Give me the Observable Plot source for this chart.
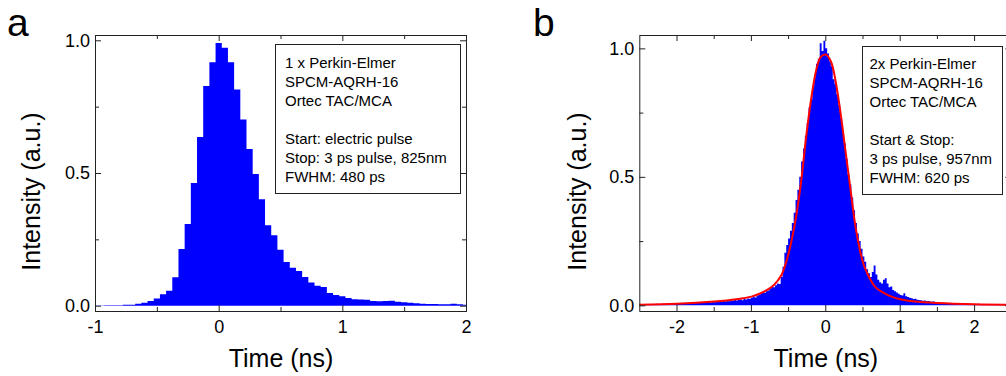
<!DOCTYPE html>
<html><head><meta charset="utf-8">
<script src="https://cdn.jsdelivr.net/npm/d3@7"></script>
<script src="https://cdn.jsdelivr.net/npm/@observablehq/plot@0.6"></script>
<style>
body{margin:0;background:#fff;}
#wrap{position:relative;width:1006px;height:376px;overflow:hidden;font-family:"Liberation Sans",Arial,sans-serif;color:#000;}
.panel{position:absolute;top:0;height:376px;overflow:visible;}
.panel svg{max-width:none !important;}
.letter{position:absolute;font-size:39px;line-height:44px;}
.legend{position:absolute;border:1px solid #222;box-sizing:border-box;font-size:15px;line-height:19px;white-space:pre;background:#fff;}
</style></head>
<body>
<div id="wrap">
  <div id="pa" class="panel" style="left:0px;width:486px"></div>
  <div id="pb" class="panel" style="left:520px;width:521px"></div>
  <div class="letter" style="left:7px;top:0.5px">a</div>
  <div class="letter" style="left:533px;top:0.5px">b</div>
  <div id="lega" class="legend" style="left:275px;top:44px;width:186px;height:150px;padding:7.7px 0 0 9px"></div>
  <div id="legb" class="legend" style="left:862px;top:45.5px;width:141px;height:149px;padding:7.6px 0 0 6.5px"></div>
</div>
<script>
// ---------- Panel a data ----------
const aCenters = [-1.00,-0.95,-0.90,-0.85,-0.80,-0.75,-0.70,-0.65,-0.60,-0.55,-0.50,-0.45,-0.40,-0.35,-0.30,-0.25,-0.20,-0.15,-0.10,-0.05,
  0.00,0.05,0.10,0.15,0.20,0.25,0.30,0.35,0.40,0.45,0.50,0.55,0.60,0.65,0.70,0.75,0.80,0.85,0.90,0.95,
  1.00,1.05,1.10,1.15,1.20,1.25,1.30,1.35,1.40,1.45,1.50,1.55,1.60,1.65,1.70,1.75,1.80,1.85,1.90,1.95,2.00];
const aHeights = [0.001,0.001,0.002,0.002,0.002,0.004,0.004,0.007,0.011,0.018,0.027,0.043,0.056,0.107,0.214,0.308,0.462,0.636,0.828,0.917,
  0.990,0.972,0.917,0.815,0.702,0.590,0.496,0.401,0.303,0.265,0.211,0.165,0.143,0.131,0.108,0.087,0.075,0.070,0.048,0.040,
  0.036,0.029,0.024,0.023,0.022,0.018,0.017,0.018,0.019,0.015,0.013,0.011,0.009,0.007,0.006,0.006,0.005,0.005,0.007,0.005,0.004];
const aXMajor = [-1, 0, 1, 2];
const aXMinor = [-0.5, 0.5, 1.5];
const aLegend = ["1 x Perkin-Elmer","SPCM-AQRH-16","Ortec TAC/MCA","","Start: electric pulse","Stop: 3 ps pulse, 825nm","FWHM: 480 ps"];

// ---------- Panel b data ----------
const bStart = -2.5, bWidth = 0.025;
const bHeights = [
  // -2.5 .. -2.0
  0.003,0.004,0.002,0.004,0.005,0.003,0.004,0.005,0.004,0.006,0.005,0.004,0.006,0.005,0.007,0.005,0.006,0.007,0.006,0.008,
  // -2.0 .. -1.5
  0.007,0.008,0.006,0.009,0.008,0.010,0.007,0.009,0.011,0.008,0.010,0.012,0.009,0.011,0.013,0.010,0.012,0.014,0.011,0.013,
  // -1.5 .. -1.0
  0.012,0.015,0.013,0.016,0.014,0.017,0.015,0.019,0.016,0.020,0.018,0.022,0.019,0.021,0.024,0.020,0.025,0.023,0.027,0.026,
  // -1.0 .. -0.5
  0.030,0.034,0.031,0.037,0.040,0.046,0.051,0.049,0.055,0.058,0.066,0.072,0.070,0.078,0.085,0.083,0.110,0.150,0.205,0.235,
  // -0.5 .. 0
  0.26,0.29,0.32,0.36,0.41,0.45,0.50,0.56,0.61,0.66,0.71,0.77,0.80,0.85,0.89,0.94,0.96,1.02,0.99,1.03,
  // 0 .. 0.5
  1.00,0.98,0.95,0.93,0.88,0.86,0.82,0.78,0.73,0.68,0.63,0.57,0.51,0.47,0.42,0.37,0.32,0.28,0.25,0.22,
  // 0.5 .. 1.0
  0.19,0.17,0.14,0.125,0.11,0.13,0.155,0.12,0.10,0.09,0.085,0.10,0.105,0.085,0.07,0.073,0.06,0.055,0.05,0.045,
  // 1.0 .. 1.5
  0.040,0.038,0.047,0.035,0.032,0.030,0.028,0.025,0.026,0.022,0.021,0.020,0.018,0.019,0.016,0.017,0.015,0.014,0.015,0.013,
  // 1.5 .. 2.0
  0.010,0.011,0.009,0.010,0.008,0.009,0.008,0.007,0.009,0.007,0.006,0.008,0.006,0.007,0.005,0.006,0.007,0.005,0.006,0.005,
  // 2.0 .. 2.5
  0.005,0.004,0.006,0.004,0.005,0.004,0.003,0.005,0.004,0.003,0.004,0.003,0.004,0.003,0.002,0.004,0.003,0.002,0.003,0.002];
const bFitT = [-2.5,-2.0,-1.5,-1.2,-1.0,-0.9,-0.8,-0.7,-0.6,-0.54,-0.47,-0.40,-0.33,-0.27,-0.20,-0.13,-0.07,0.0,0.07,0.13,0.20,0.27,0.34,0.40,0.47,0.51,0.56,0.62,0.67,0.76,0.85,1.0,1.2,1.5,2.0,2.5];
const bFitV = [0.004,0.008,0.017,0.026,0.036,0.046,0.060,0.080,0.118,0.163,0.241,0.345,0.488,0.643,0.799,0.916,0.968,0.978,0.950,0.877,0.747,0.591,0.436,0.306,0.202,0.160,0.125,0.092,0.072,0.053,0.040,0.026,0.017,0.011,0.006,0.004];
const bXMajor = [-2, -1, 0, 1, 2];
const bXMinor = [-1.5, -0.5, 0.5, 1.5];
const bLegend = ["2x Perkin-Elmer","SPCM-AQRH-16","Ortec TAC/MCA","","Start & Stop:","3 ps pulse, 957nm","FWHM: 620 ps"];

const yMajor = [0, 0.5, 1.0];
const yMinor = [0.25, 0.75];

const BLUE = "#0000ff", INK = "#222";
const FH = 276; // frame height in px

function makeMarks({hist, fit, xMajor, xMinor, titleDx}) {
  const m = [Plot.areaY(hist, {x: "t", y: "v", y1: 0, curve: "step", fill: BLUE, clip: true})];
  if (fit) m.push(Plot.line(fit, {x: "t", y: "v", stroke: "#ff0000", strokeWidth: 2, curve: "catmull-rom", clip: true}));
  m.push(
    Plot.tickX(xMajor, {x: d => d, insetTop: FH - 6, stroke: INK}),
    Plot.tickX(xMinor, {x: d => d, insetTop: FH - 4, stroke: INK}),
    Plot.tickX(xMajor, {x: d => d, insetBottom: FH - 6, stroke: INK}),
    Plot.tickX(xMinor, {x: d => d, insetBottom: FH - 4, stroke: INK}),
    Plot.frame({stroke: INK, strokeWidth: 1}),
    Plot.axisX(xMajor, {tickSize: 0, tickPadding: 9, tickFormat: d => String(d), fontSize: 18, label: null, fill: "#000"}),
    Plot.axisY(yMajor, {tickSize: 0, tickPadding: 5.5, tickFormat: d3.format(".1f"), fontSize: 18, label: null, fill: "#000"}),
    Plot.text(["Time (ns)"], {frameAnchor: "bottom", dy: 55, lineAnchor: "bottom", textAnchor: "middle", fontSize: 25, fill: "#000"}),
    Plot.text(["Intensity (a.u.)"], {frameAnchor: "left", rotate: -90, dx: titleDx, dy: 18, lineAnchor: "bottom", textAnchor: "middle", fontSize: 25, fill: "#000"})
  );
  return m;
}

function build(cfg) {
  const fw = cfg.width - cfg.marginLeft - cfg.marginRight;
  const yTicks = [
    Plot.tickY(yMajor, {y: d => d, insetRight: fw - 6, stroke: INK}),
    Plot.tickY(yMinor, {y: d => d, insetRight: fw - 4, stroke: INK}),
    Plot.tickY(yMajor, {y: d => d, insetLeft: fw - 6, stroke: INK}),
    Plot.tickY(yMinor, {y: d => d, insetLeft: fw - 4, stroke: INK}),
  ];
  return Plot.plot({
    width: cfg.width, height: 376,
    marginLeft: cfg.marginLeft, marginRight: cfg.marginRight, marginTop: 35, marginBottom: 65,
    style: {fontFamily: '"Liberation Sans", Arial, sans-serif', fontSize: "18px", color: "#000", background: "transparent", overflow: "visible", maxWidth: "none"},
    x: {domain: cfg.xDomain, axis: null},
    y: {domain: cfg.yDomain, axis: null},
    marks: [...cfg.marks, ...yTicks]
  });
}

const histA = aCenters.map((t, i) => ({t, v: aHeights[i]}));
const histB = bHeights.map((v, i) => ({t: bStart + (i + 0.5) * bWidth, v}));
const fitB = bFitT.map((t, i) => ({t, v: bFitV[i]}));

const plotA = build({
  width: 486, marginLeft: 95, marginRight: 20,
  xDomain: [-1, 2], yDomain: [-0.02, 1.02],
  marks: makeMarks({hist: histA, xMajor: aXMajor, xMinor: aXMinor, titleDx: -55.7})
});
const plotB = build({
  width: 521, marginLeft: 119.3, marginRight: 29.7,
  xDomain: [-2.5, 2.5], yDomain: [-0.022, 1.052],
  marks: makeMarks({hist: histB, fit: fitB, xMajor: bXMajor, xMinor: bXMinor, titleDx: -54.3})
});
document.getElementById("pa").append(plotA);
document.getElementById("pb").append(plotB);
document.getElementById("lega").textContent = aLegend.join("\n");
document.getElementById("legb").textContent = bLegend.join("\n");
</script>
</body></html>
